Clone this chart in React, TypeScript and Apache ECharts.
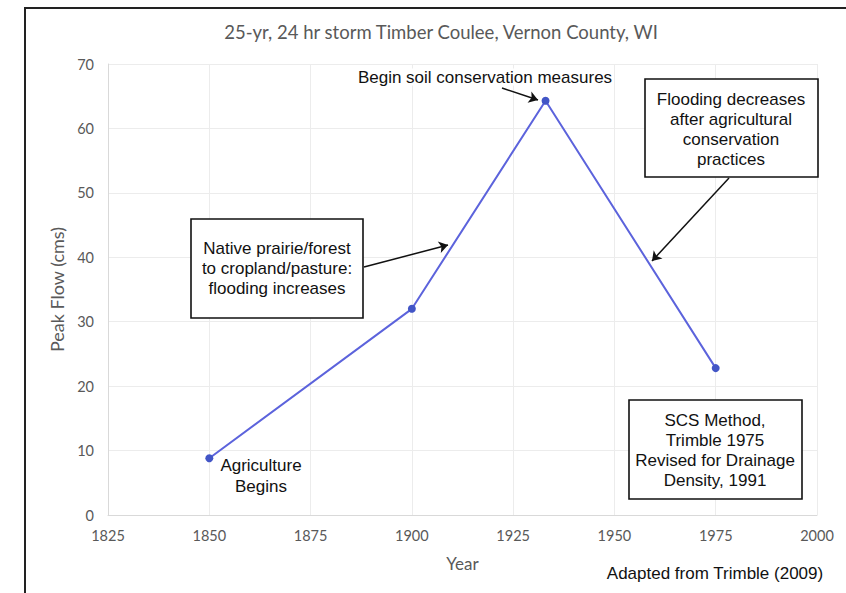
import React, { useEffect, useRef } from "react";
import * as echarts from "echarts";

const years = [1850, 1900, 1933, 1975];
const peakFlow = [8.8, 32, 64.3, 22.8];
const xTicks = { min: 1825, max: 2000, interval: 25 };
const yTicks = { min: 0, max: 70, interval: 10 };

const titleText = "25-yr, 24 hr storm Timber Coulee, Vernon County, WI";
const noteBegin = "Begin soil conservation measures";
const noteDecrease = "Flooding decreases\nafter agricultural\nconservation\npractices";
const noteIncrease = "Native prairie/forest\nto cropland/pasture:\nflooding increases";
const noteAgri = "Agriculture\nBegins";
const noteSCS = "SCS Method,\nTrimble 1975\nRevised for Drainage\nDensity, 1991";
const noteSource = "Adapted from Trimble (2009)";

const ARIAL = "'Liberation Sans', Arial, sans-serif";
const CAL = "Lato, 'Open Sans', sans-serif";

export default function App() {
  const ref = useRef<HTMLDivElement>(null);
  useEffect(() => {
    if (!ref.current) return;
    const chart = echarts.init(ref.current, null, { renderer: "svg" });
    const boxText = (cx: number, cy: number, text: string) => ({
      type: "text",
      x: cx,
      y: cy,
      z: 11,
      style: {
        text,
        textAlign: "center",
        textVerticalAlign: "middle",
        fontFamily: ARIAL,
        fontSize: 17,
        lineHeight: 20,
        fill: "#111",
      },
    });
    const box = (x: number, y: number, w: number, h: number) => ({
      type: "rect",
      shape: { x, y, width: w, height: h },
      style: { fill: "#fff", stroke: "#111", lineWidth: 1.6 },
      z: 10,
    });
    chart.setOption({
      animation: false,
      backgroundColor: "#fff",
      grid: { left: 108, right: 29, top: 64, bottom: 78, containLabel: false },
      xAxis: {
        type: "value",
        min: xTicks.min,
        max: xTicks.max,
        interval: xTicks.interval,
        name: "Year",
        nameLocation: "middle",
        nameGap: 40,
        nameTextStyle: { color: "#595959", fontFamily: CAL, fontSize: 17 },
        axisLine: { show: true, lineStyle: { color: "#d9d9d9", width: 1 } },
        axisTick: { show: false },
        axisLabel: {
          color: "#595959",
          fontFamily: CAL,
          fontSize: 14.5,
          margin: 13,
          formatter: (v: number) => String(v),
        },
        splitLine: { show: true, lineStyle: { color: "#ececec", width: 1 } },
      },
      yAxis: {
        type: "value",
        min: yTicks.min,
        max: yTicks.max,
        interval: yTicks.interval,
        name: "Peak Flow (cms)",
        nameLocation: "middle",
        nameGap: 40,
        nameTextStyle: { color: "#595959", fontFamily: CAL, fontSize: 18 },
        axisLine: { show: true, lineStyle: { color: "#d9d9d9", width: 1 } },
        axisTick: { show: false },
        axisLabel: { color: "#595959", fontFamily: CAL, fontSize: 14.5, margin: 14 },
        splitLine: { show: true, lineStyle: { color: "#ececec", width: 1 } },
      },
      series: [
        {
          type: "line",
          data: years.map((y, i) => [y, peakFlow[i]]),
          lineStyle: { color: "#5c63dc", width: 2 },
          itemStyle: { color: "#4255c6" },
          symbol: "circle",
          symbolSize: 8,
          showSymbol: true,
          z: 5,
          markLine: {
            silent: true,
            symbol: ["none", "arrow"],
            symbolSize: 9,
            label: { show: false },
            lineStyle: { color: "#111", width: 1.5, type: "solid" },
            data: [
              [{ x: 502, y: 88 }, { x: 538, y: 100 }],
              [{ x: 729, y: 178 }, { x: 652, y: 261 }],
              [{ x: 364, y: 267 }, { x: 448, y: 245 }],
            ],
          },
        },
      ],
      graphic: [
        {
          type: "polyline",
          shape: { points: [[25, 593], [25, 8], [846, 8]] },
          style: { stroke: "#222", lineWidth: 2, fill: "none" },
        },
        {
          type: "text",
          x: 441,
          y: 32,
          style: {
            text: titleText,
            textAlign: "center",
            textVerticalAlign: "middle",
            fontFamily: CAL,
            fontSize: 18.5,
            fill: "#595959",
          },
        },
        {
          type: "text",
          x: 485,
          y: 77,
          z: 11,
          style: {
            text: noteBegin,
            textAlign: "center",
            textVerticalAlign: "middle",
            fontFamily: ARIAL,
            fontSize: 17,
            fill: "#111",
            backgroundColor: "#fff",
          },
        },
        box(645, 79, 173, 98),
        boxText(731, 129, noteDecrease),
        box(191, 219, 172, 99),
        boxText(277, 268, noteIncrease),
        box(629, 400, 173, 99),
        boxText(715, 450, noteSCS),
        {
          type: "text",
          x: 261,
          y: 476,
          style: {
            text: noteAgri,
            textAlign: "center",
            textVerticalAlign: "middle",
            fontFamily: ARIAL,
            fontSize: 17,
            lineHeight: 21,
            fill: "#111",
          },
        },
        {
          type: "text",
          x: 715,
          y: 573,
          style: {
            text: noteSource,
            textAlign: "center",
            textVerticalAlign: "middle",
            fontFamily: ARIAL,
            fontSize: 17,
            fill: "#111",
          },
        },
      ],
    });
    return () => chart.dispose();
  }, []);
  return (
    <div
      ref={ref}
      style={{ position: "fixed", left: 0, top: 0, width: 846, height: 593 }}
    />
  );
}
